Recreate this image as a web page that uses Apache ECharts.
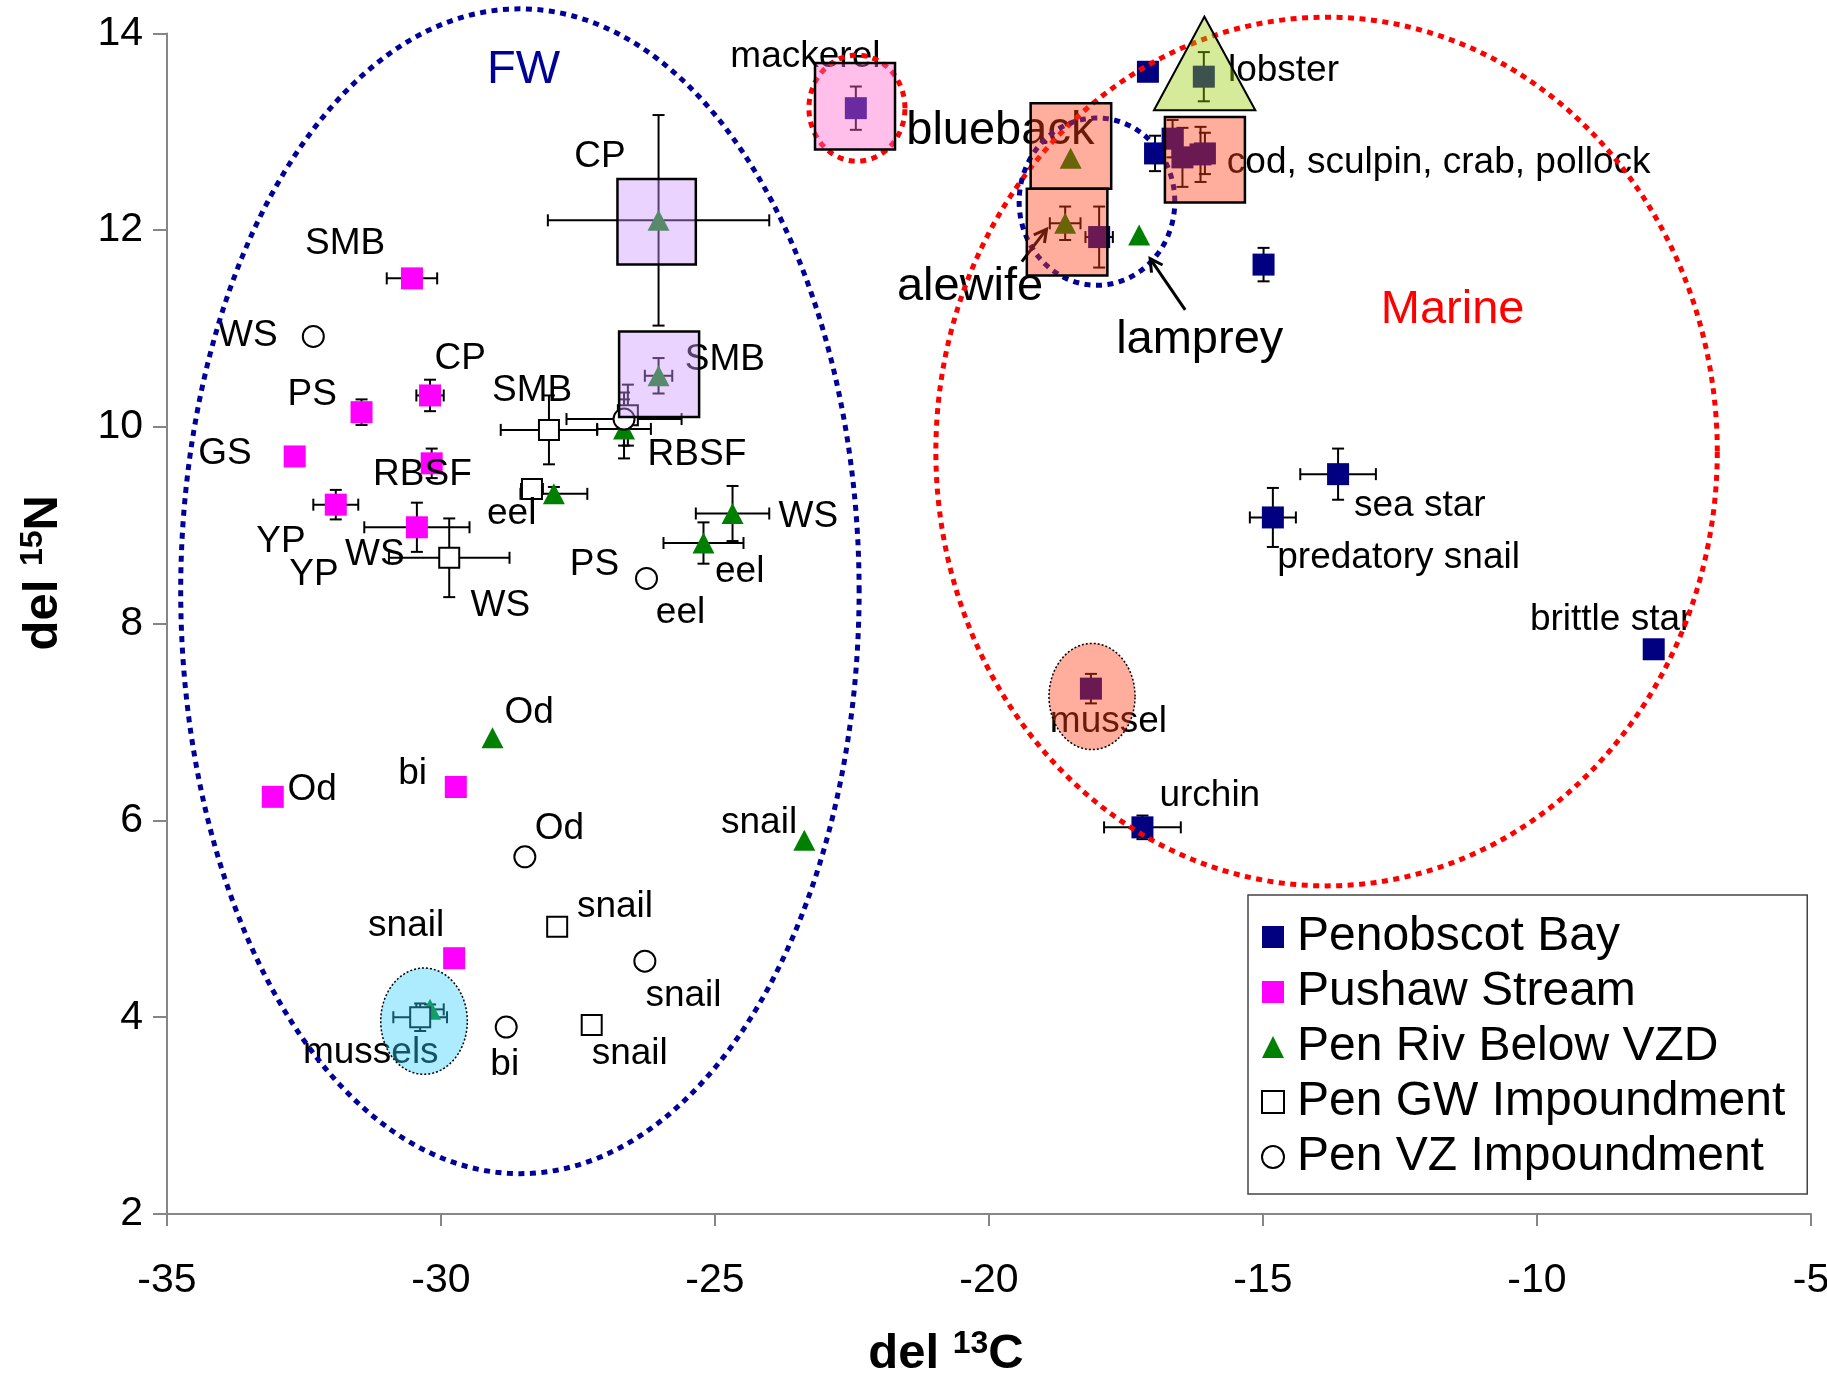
<!DOCTYPE html>
<html><head><meta charset="utf-8">
<script src="https://cdn.jsdelivr.net/npm/echarts@6/dist/echarts.min.js"></script>
<style>html,body{margin:0;padding:0;background:#fff}#c{width:1827px;height:1377px}</style>
</head><body><div id="c"></div>
<script>
const FONT = '"Liberation Sans", Arial, Helvetica, sans-serif';
const xTicks = [-35, -30, -25, -20, -15, -10, -5];
const yTicks = [2, 4, 6, 8, 10, 12, 14];
const seriesNames = ['Penobscot Bay', 'Pushaw Stream', 'Pen Riv Below VZD', 'Pen GW Impoundment', 'Pen VZ Impoundment'];

// [del13C, del15N, xErr, yErr]
const penobscotBay = [
  [-22.43, 13.24, 0, 0.22],
  [-17.10, 13.61, 0, 0],
  [-16.08, 13.56, 0.10, 0.25],
  [-16.97, 12.78, 0.08, 0.18],
  [-16.65, 12.93, 0, 0.19],
  [-16.47, 12.74, 0, 0.30],
  [-16.14, 12.77, 0, 0.28],
  [-16.06, 12.78, 0, 0.21],
  [-17.99, 11.93, 0.25, 0.31],
  [-14.99, 11.65, 0, 0.17],
  [-13.63, 9.52, 0.69, 0.26],
  [-14.82, 9.08, 0.42, 0.30],
  [-7.87, 7.74, 0.13, 0.05],
  [-18.14, 7.34, 0, 0.15],
  [-17.20, 5.93, 0.70, 0.12]
];
const pushawStream = [
  [-30.53, 11.51, 0.46, 0],
  [-31.45, 10.15, 0, 0.13],
  [-30.20, 10.32, 0.25, 0.16],
  [-32.67, 9.70, 0, 0],
  [-30.17, 9.63, 0, 0.15],
  [-31.92, 9.21, 0.41, 0.15],
  [-30.44, 8.98, 0.96, 0.25],
  [-33.07, 6.24, 0, 0],
  [-29.73, 6.34, 0, 0],
  [-29.76, 4.60, 0, 0]
];
const penRivBelowVZD = [
  [-26.03, 12.10, 2.02, 1.07],
  [-26.03, 10.52, 0.25, 0.18],
  [-26.66, 9.98, 0.49, 0.30],
  [-27.94, 9.32, 0.61, 0.07],
  [-24.68, 9.12, 0.67, 0.28],
  [-25.21, 8.82, 0.73, 0.21],
  [-29.06, 6.84, 0, 0],
  [-23.37, 5.80, 0, 0],
  [-30.20, 4.08, 0.25, 0.05],
  [-18.51, 12.73, 0, 0],
  [-18.61, 12.07, 0.28, 0.17],
  [-17.26, 11.95, 0, 0]
];
const penGWImpoundment = [
  [-28.03, 9.97, 0.88, 0.35],
  [-28.34, 9.37, 0.20, 0],
  [-29.85, 8.67, 1.10, 0.40],
  [-26.59, 10.12, 0, 0.31],
  [-27.88, 4.92, 0, 0],
  [-27.25, 3.92, 0, 0],
  [-30.38, 4.00, 0.49, 0.14]
];
const penVZImpoundment = [
  [-32.33, 10.92, 0, 0],
  [-26.66, 10.08, 1.05, 0.27],
  [-26.25, 8.46, 0, 0],
  [-28.47, 5.63, 0, 0],
  [-26.28, 4.57, 0, 0],
  [-28.81, 3.90, 0, 0]
];

// annotation text: [text, del13C, del15N (left edge, vertical middle), kind]
const labels = [
  ['FW', -29.16, 13.66, 'fw'],
  ['mackerel', -24.72, 13.79, 's'],
  ['CP', -27.57, 12.78, 's'],
  ['SMB', -32.48, 11.89, 's'],
  ['WS', -34.07, 10.96, 's'],
  ['CP', -30.12, 10.72, 's'],
  ['PS', -32.80, 10.36, 's'],
  ['SMB', -29.07, 10.40, 's'],
  ['SMB', -25.55, 10.71, 's'],
  ['GS', -34.43, 9.76, 's'],
  ['RBSF', -31.24, 9.54, 's'],
  ['RBSF', -26.23, 9.75, 's'],
  ['eel', -29.16, 9.15, 's'],
  ['WS', -23.84, 9.12, 's'],
  ['YP', -33.37, 8.86, 's'],
  ['WS', -31.75, 8.73, 's'],
  ['YP', -32.77, 8.53, 's'],
  ['PS', -27.65, 8.63, 's'],
  ['eel', -25.00, 8.56, 's'],
  ['WS', -29.46, 8.21, 's'],
  ['eel', -26.08, 8.14, 's'],
  ['Od', -28.84, 7.12, 's'],
  ['Od', -32.80, 6.34, 's'],
  ['bi', -30.78, 6.50, 's'],
  ['Od', -28.29, 5.95, 's'],
  ['snail', -24.89, 6.01, 's'],
  ['snail', -27.52, 5.15, 's'],
  ['snail', -31.33, 4.96, 's'],
  ['snail', -26.27, 4.25, 's'],
  ['mussels', -32.52, 3.67, 's'],
  ['bi', -29.10, 3.55, 's'],
  ['snail', -27.25, 3.66, 's'],
  ['blueback', -21.51, 13.04, 'b'],
  ['lobster', -15.64, 13.65, 's'],
  ['cod, sculpin, crab, pollock', -15.66, 12.72, 's'],
  ['alewife', -21.68, 11.45, 'b'],
  ['lamprey', -17.68, 10.91, 'b'],
  ['Marine', -12.85, 11.22, 'marine'],
  ['sea star', -13.34, 9.23, 's'],
  ['predatory snail', -14.74, 8.70, 's'],
  ['brittle star', -10.13, 8.07, 's'],
  ['mussel', -18.89, 7.03, 's'],
  ['urchin', -16.89, 6.28, 's']
];

// group outlines: [centre x, centre y, radius x, radius y, kind]
const groupEllipses = [
  [-28.56, 8.33, 6.19, 5.92, 'blue'],
  [-13.84, 9.75, 7.13, 4.415, 'red'],
  [-22.41, 13.24, 0.876, 0.539, 'red'],
  [-18.03, 12.29, 1.42, 0.85, 'blue']
];
// filled highlight ellipses: [cx, cy, rx, ry, kind]
const highlightEllipses = [
  [-30.31, 3.96, 0.79, 0.54, 'cyan'],
  [-18.12, 7.26, 0.785, 0.54, 'salmon']
];
// highlight boxes: [x1, yTop, x2, yBottom, kind]
const highlightBoxes = [
  [-23.175, 13.70, -21.715, 12.82, 'pink'],
  [-19.24, 13.29, -17.77, 12.42, 'salmon'],
  [-19.31, 12.42, -17.84, 11.54, 'salmon'],
  [-16.79, 13.15, -15.33, 12.28, 'salmon'],
  [-26.78, 12.52, -25.35, 11.65, 'lavender'],
  [-26.75, 10.97, -25.29, 10.10, 'lavender']
];
const lobsterTriangle = [[-16.07, 14.17], [-16.99, 13.218], [-15.14, 13.218]];
// arrows: [tail x, tail y, head x, head y]
const arrows = [
  [-19.40, 11.68, -18.95, 12.01],
  [-16.42, 11.19, -17.06, 11.71]
];

const FILL = {
  pink: 'rgba(255,102,204,0.42)',
  salmon: 'rgba(255,60,20,0.42)',
  lavender: 'rgba(204,153,255,0.42)',
  cyan: 'rgba(51,204,255,0.40)',
  lime: 'rgba(153,204,0,0.40)'
};

function ellipsePoints(api, cx, cy, rx, ry) {
  const pts = [];
  const n = 360;
  for (let k = 0; k < n; k++) {
    const t = Math.PI * 2 * k / n;
    pts.push(api.coord([cx + rx * Math.cos(t), cy + ry * Math.sin(t)]));
  }
  return pts;
}

const allPoints = [].concat(penobscotBay, pushawStream, penRivBelowVZD, penGWImpoundment, penVZImpoundment);

function renderErr(params, api) {
  const x = api.value(0), y = api.value(1), xe = api.value(2), ye = api.value(3);
  const st = { stroke: '#000', lineWidth: 2, fill: 'none' };
  const cap = 6;
  const ch = [];
  if (xe > 0) {
    const l = api.coord([x - xe, y]), r = api.coord([x + xe, y]);
    ch.push({ type: 'line', shape: { x1: l[0], y1: l[1], x2: r[0], y2: r[1] }, style: st });
    ch.push({ type: 'line', shape: { x1: l[0], y1: l[1] - cap, x2: l[0], y2: l[1] + cap }, style: st });
    ch.push({ type: 'line', shape: { x1: r[0], y1: r[1] - cap, x2: r[0], y2: r[1] + cap }, style: st });
  }
  if (ye > 0) {
    const t = api.coord([x, y + ye]), b = api.coord([x, y - ye]);
    ch.push({ type: 'line', shape: { x1: t[0], y1: t[1], x2: b[0], y2: b[1] }, style: st });
    ch.push({ type: 'line', shape: { x1: t[0] - cap, y1: t[1], x2: t[0] + cap, y2: t[1] }, style: st });
    ch.push({ type: 'line', shape: { x1: b[0] - cap, y1: b[1], x2: b[0] + cap, y2: b[1] }, style: st });
  }
  return { type: 'group', children: ch };
}

function renderLabel(params, api) {
  const l = labels[params.dataIndex];
  const p = api.coord([api.value(0), api.value(1)]);
  let size = 37, color = '#000';
  if (l[3] === 'b') size = 47;
  if (l[3] === 'fw') { size = 47; color = '#000099'; }
  if (l[3] === 'marine') { size = 47; color = '#FF0000'; }
  return {
    type: 'text', x: p[0], y: p[1] + 3,
    style: { text: l[0], fill: color, font: size + 'px ' + FONT, align: 'left', verticalAlign: 'middle' }
  };
}

function renderGroupEllipse(params, api) {
  const e = groupEllipses[params.dataIndex];
  return {
    type: 'polygon',
    shape: { points: ellipsePoints(api, e[0], e[1], e[2], e[3]) },
    style: { fill: 'none', stroke: e[4] === 'red' ? '#FF0000' : '#000099', lineWidth: 5, lineDash: [6, 5.5], lineCap: 'butt' }
  };
}

function renderHighlightEllipse(params, api) {
  const e = highlightEllipses[params.dataIndex];
  return {
    type: 'polygon',
    shape: { points: ellipsePoints(api, e[0], e[1], e[2], e[3]) },
    style: { fill: FILL[e[4]], stroke: '#000', lineWidth: 1.5, lineDash: [2, 2] }
  };
}

function renderBox(params, api) {
  const b = highlightBoxes[params.dataIndex];
  const p1 = api.coord([b[0], b[1]]), p2 = api.coord([b[2], b[3]]);
  return {
    type: 'rect',
    shape: { x: p1[0], y: p1[1], width: p2[0] - p1[0], height: p2[1] - p1[1] },
    style: { fill: FILL[b[4]], stroke: '#000', lineWidth: 2.5 }
  };
}

function renderTriangle(params, api) {
  return {
    type: 'polygon',
    shape: { points: lobsterTriangle.map(p => api.coord(p)) },
    style: { fill: FILL.lime, stroke: '#000', lineWidth: 2 }
  };
}

function renderArrow(params, api) {
  const a = arrows[params.dataIndex];
  const p1 = api.coord([a[0], a[1]]), p2 = api.coord([a[2], a[3]]);
  const ang = Math.atan2(p2[1] - p1[1], p2[0] - p1[0]);
  const len = 14, s = 0.5;
  const h1 = [p2[0] - len * Math.cos(ang - s), p2[1] - len * Math.sin(ang - s)];
  const h2 = [p2[0] - len * Math.cos(ang + s), p2[1] - len * Math.sin(ang + s)];
  const st = { stroke: '#000', lineWidth: 3, fill: 'none' };
  return {
    type: 'group', children: [
      { type: 'line', shape: { x1: p1[0], y1: p1[1], x2: p2[0], y2: p2[1] }, style: st },
      { type: 'polyline', shape: { points: [h1, p2, h2] }, style: st }
    ]
  };
}

const axisLineStyle = { color: '#868686', width: 2 };
const supRich = {
  a: { fontSize: 49, fontWeight: 'bold', fontFamily: FONT, color: '#000', lineHeight: 52 },
  s: { fontSize: 32, fontWeight: 'bold', fontFamily: FONT, color: '#000', verticalAlign: 'top', lineHeight: 32 }
};

const chart = echarts.init(document.getElementById('c'), null, { renderer: 'canvas' });
chart.setOption({
  animation: false,
  backgroundColor: '#fff',
  grid: { left: 167, right: 16, top: 33.4, bottom: 163, containLabel: false, outerBoundsMode: 'none' },
  xAxis: {
    type: 'value', min: xTicks[0], max: xTicks[xTicks.length - 1], interval: 5,
    axisLine: { show: true, onZero: false, lineStyle: axisLineStyle },
    axisTick: { show: true, length: 12, lineStyle: axisLineStyle },
    axisLabel: { fontSize: 41, color: '#000', fontFamily: FONT, margin: 46 },
    splitLine: { show: false },
    name: '{a|del }{s|13}{a|C}', nameLocation: 'middle', nameGap: 114,
    nameTextStyle: { rich: supRich, padding: [0, 86, 0, 0] }
  },
  yAxis: {
    type: 'value', min: yTicks[0], max: yTicks[yTicks.length - 1], interval: 2,
    axisLine: { show: true, onZero: false, lineStyle: axisLineStyle },
    axisTick: { show: true, length: 14, lineStyle: axisLineStyle },
    axisLabel: { fontSize: 41, color: '#000', fontFamily: FONT, margin: 24, padding: [6, 0, 0, 0] },
    splitLine: { show: false },
    name: '{a|del }{s|15}{a|N}', nameLocation: 'middle', nameGap: 98, nameRotate: 90,
    nameTextStyle: { rich: supRich, padding: [0, 0, 0, 102] }
  },
  legend: {
    orient: 'vertical', left: 1248, top: 895,
    padding: [18, 22, 13, 13],
    itemWidth: 22, itemHeight: 22, itemGap: 7,
    backgroundColor: '#fff', borderColor: '#444', borderWidth: 1.5,
    textStyle: { fontSize: 48, color: '#000', fontFamily: FONT, padding: [0, 0, 0, 8] },
    selectedMode: false,
    data: seriesNames
  },
  series: [
    { type: 'custom', name: 'errbars', z: 2, renderItem: renderErr, data: allPoints, silent: true },
    { type: 'scatter', name: seriesNames[0], z: 3, symbol: 'rect', symbolSize: 22,
      itemStyle: { color: '#000080', opacity: 1 }, data: penobscotBay.map(d => [d[0], d[1]]) },
    { type: 'scatter', name: seriesNames[1], z: 3, symbol: 'rect', symbolSize: 22,
      itemStyle: { color: '#FF00FF', opacity: 1 }, data: pushawStream.map(d => [d[0], d[1]]) },
    { type: 'scatter', name: seriesNames[2], z: 3, symbol: 'triangle', symbolSize: [22, 21],
      itemStyle: { color: '#008000', opacity: 1 }, data: penRivBelowVZD.map(d => [d[0], d[1]]) },
    { type: 'scatter', name: seriesNames[3], z: 3, symbol: 'rect', symbolSize: 20,
      itemStyle: { color: '#fff', borderColor: '#000', borderWidth: 2, opacity: 1 }, data: penGWImpoundment.map(d => [d[0], d[1]]) },
    { type: 'scatter', name: seriesNames[4], z: 3, symbol: 'circle', symbolSize: 21,
      itemStyle: { color: '#fff', borderColor: '#000', borderWidth: 2, opacity: 1 }, data: penVZImpoundment.map(d => [d[0], d[1]]) },
    { type: 'custom', name: 'labels', z: 4, renderItem: renderLabel, data: labels.map(l => [l[1], l[2]]), silent: true },
    { type: 'custom', name: 'groups', z: 5, renderItem: renderGroupEllipse, data: groupEllipses.map(e => [e[0], e[1]]), silent: true },
    { type: 'custom', name: 'arrows', z: 5, renderItem: renderArrow, data: arrows.map(a => [a[0], a[1]]), silent: true },
    { type: 'custom', name: 'hlEllipses', z: 6, renderItem: renderHighlightEllipse, data: highlightEllipses.map(e => [e[0], e[1]]), silent: true },
    { type: 'custom', name: 'hlBoxes', z: 6, renderItem: renderBox, data: highlightBoxes.map(b => [b[0], b[1]]), silent: true },
    { type: 'custom', name: 'hlTriangle', z: 6, renderItem: renderTriangle, data: [lobsterTriangle[0]], silent: true }
  ]
});
</script>
</body></html>
